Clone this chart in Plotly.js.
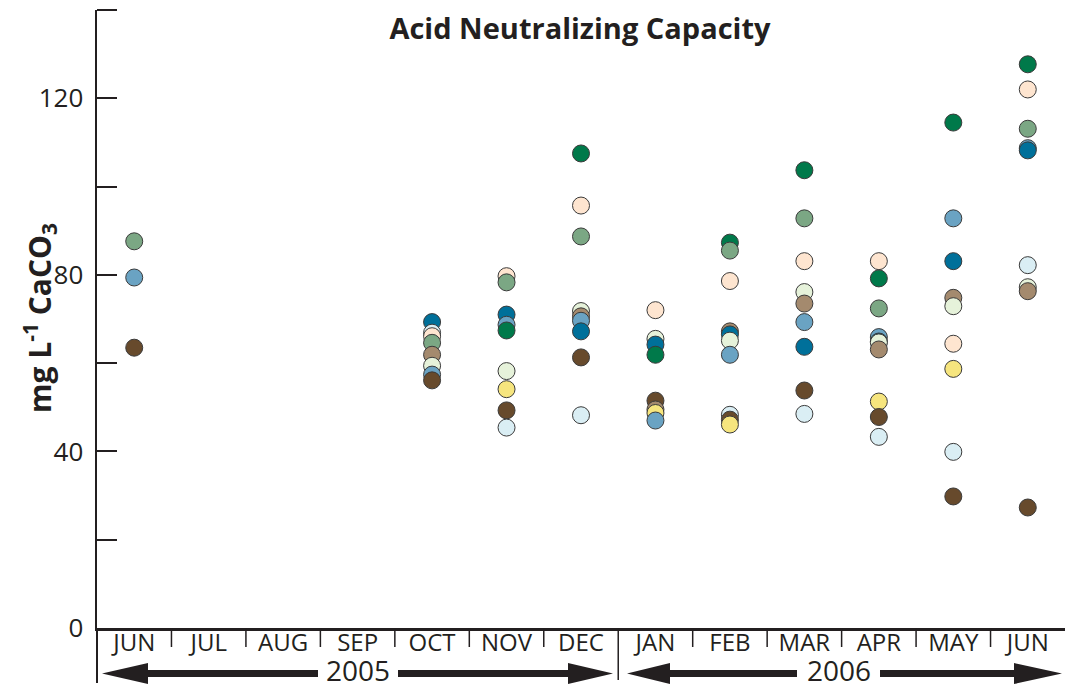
<!DOCTYPE html>
<html>
<head>
<meta charset="utf-8">
<script src="https://cdn.plot.ly/plotly-3.0.1.min.js"></script>
<style>html,body{margin:0;padding:0;background:#fff;}#chart{width:1067px;height:691px;}</style>
</head>
<body>
<div id="chart"></div>
<script>
// Month categories (JUN 2005 .. JUN 2006)
const months = ["JUN","JUL","AUG","SEP","OCT","NOV","DEC","JAN","FEB","MAR","APR","MAY","JUN"];
const years = ["2005","2006"];

// ANC values (mg/L CaCO3) per site, one value per month (null = no sample)
const darkGreen  = [null,null,null,null,null,67.4,107.5,61.9,87.3,103.7,79.2,114.5,127.7];
const grayGreen  = [87.6,null,null,null,64.6,78.3,88.7,null,85.5,92.8,72.4,null,113.1];
const peach      = [null,null,null,null,66.1,79.7,95.7,72.0,78.6,83.1,83.1,64.4,122.0];
const paleGreen  = [null,null,null,null,59.4,58.2,71.8,65.5,65.1,76.1,64.7,72.9,77.2];
const tan        = [null,null,null,null,61.9,null,70.6,49.5,67.2,73.5,63.1,74.8,76.3];
const steelBlue  = [79.4,null,null,null,57.4,68.7,69.6,47.0,61.9,69.3,65.9,92.8,108.7];
const tealBlue   = [null,null,null,null,69.3,71.0,67.2,64.2,66.5,63.7,64.9,83.1,108.2];
const darkBrown  = [63.5,null,null,null,56.1,49.3,61.3,51.5,47.2,53.8,47.8,29.8,27.3];
const paleBlue   = [null,null,null,null,66.9,45.4,48.2,null,48.3,48.5,43.3,39.9,82.2];
const yellow     = [null,null,null,null,null,54.1,null,48.7,46.1,null,51.3,58.7,null];

const seriesList = [
  {name:"Site A", values:darkGreen, color:"#00794A"},
  {name:"Site B", values:grayGreen, color:"#7BA784"},
  {name:"Site C", values:peach,     color:"#FEE5D0"},
  {name:"Site D", values:paleGreen, color:"#E6F2DA"},
  {name:"Site E", values:tan,       color:"#A48A6E"},
  {name:"Site F", values:steelBlue, color:"#6AA3C3"},
  {name:"Site G", values:tealBlue,  color:"#00709A"},
  {name:"Site H", values:darkBrown, color:"#674A2C"},
  {name:"Site I", values:paleBlue,  color:"#DAEEF4"},
  {name:"Site J", values:yellow,    color:"#F6E57E"}
];

// Build one point list; lower values drawn on top (as in the original)
const pts = [];
seriesList.forEach(s => {
  s.values.forEach((v, i) => {
    if (v !== null) pts.push({x: i + 0.5, y: v, c: s.color, n: s.name, m: months[i]});
  });
});
pts.sort((a, b) => b.y - a.y);

const trace = {
  type: "scatter",
  mode: "markers",
  x: pts.map(p => p.x),
  y: pts.map(p => p.y),
  text: pts.map(p => p.n + " (" + p.m + ")"),
  hoverinfo: "text+y",
  marker: {size: 17, color: pts.map(p => p.c), line: {color: "#3a3a3a", width: 1}},
  showlegend: false,
  cliponaxis: false
};

const ink = "#231F20";
const N = months.length;
const xp = px => (px - 97) / 968;
const yp = py => (628 - py) / 618;

const shapes = [];
// left border extension and month separators
shapes.push({type:"line", xref:"paper", yref:"paper", x0:0, x1:0, y0:0, y1:yp(683), line:{color:ink, width:2}});
for (let i = 1; i < N; i++) {
  const isYear = (i === 7);
  shapes.push({type:"line", xref:"paper", yref:"paper", x0:i/N, x1:i/N, y0:0, y1: isYear ? yp(680) : yp(647), line:{color:ink, width:1.5}});
}
// top tick of the value axis
shapes.push({type:"line", xref:"paper", yref:"paper", x0:0, x1:xp(117), y0:1, y1:1, line:{color:ink, width:2}});
// year arrows
const ay = yp(673.5), ah1 = yp(663), ah2 = yp(684);
function arrowLine(a, b) {
  shapes.push({type:"line", xref:"paper", yref:"paper", x0:xp(a), x1:xp(b), y0:ay, y1:ay, line:{color:ink, width:7}});
}
function head(tip, base) {
  shapes.push({type:"path", xref:"paper", yref:"paper",
    path:`M ${xp(tip)} ${ay} L ${xp(base)} ${ah1} L ${xp(base)} ${ah2} Z`,
    fillcolor:ink, line:{color:ink, width:0}});
}
head(102, 148); arrowLine(146, 318); arrowLine(398, 572); head(613, 568);
head(627, 670); arrowLine(668, 797); arrowLine(880, 1016); head(1062, 1014);

const annotations = [
  {text: years[0], xref:"paper", yref:"paper", x:xp(358), y:yp(691), xanchor:"center", yanchor:"bottom", showarrow:false, font:{size:28, color:ink, family:"Open Sans"}},
  {text: years[1], xref:"paper", yref:"paper", x:xp(839), y:yp(691), xanchor:"center", yanchor:"bottom", showarrow:false, font:{size:28, color:ink, family:"Open Sans"}},
  {text: "<b>mg L<sup>-1</sup> CaCO<sub>3</sub></b>", xref:"paper", yref:"paper", x:xp(39), y:yp(318), xanchor:"center", yanchor:"middle",
   textangle:-90, showarrow:false, font:{size:30, color:ink, family:"Open Sans"}}
];

const layout = {
  width: 1067, height: 691,
  margin: {l: 97, r: 2, t: 10, b: 63},
  paper_bgcolor: "#fff", plot_bgcolor: "#fff",
  font: {family: "Open Sans", color: ink},
  title: {text: "<b>Acid Neutralizing Capacity</b>", x: xp(580), xref: "paper", xanchor: "center",
          y: 1 - 29/691, yref: "container", yanchor: "middle", font: {size: 29, color: ink, family: "Open Sans"}},
  xaxis: {
    range: [0, N], tickvals: months.map((m, i) => i + 0.5), ticktext: months,
    ticks: "", ticklabelstandoff: -8,
    showline: true, linewidth: 2.5, linecolor: ink, showgrid: false, zeroline: false,
    tickfont: {size: 24, color: ink}, fixedrange: true
  },
  yaxis: {
    range: [0, 140], tickvals: [0,20,40,60,80,100,120], ticktext: ["0","","40","","80","","120"],
    ticks: "inside", ticklen: 20, tickwidth: 2, tickcolor: ink,
    showline: true, linewidth: 2.5, linecolor: ink, showgrid: false, zeroline: false,
    tickfont: {size: 26, color: ink}, ticklabelstandoff: 6,
    fixedrange: true
  },
  shapes: shapes,
  annotations: annotations,
  showlegend: false
};

Plotly.newPlot("chart", [trace], layout, {displayModeBar: false, staticPlot: true});
</script>
</body>
</html>
